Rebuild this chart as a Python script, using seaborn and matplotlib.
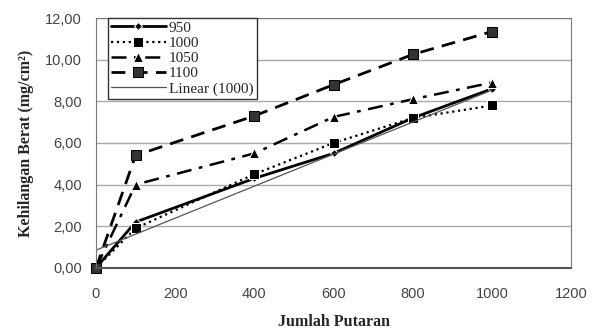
import matplotlib
matplotlib.use("Agg")
import matplotlib.pyplot as plt
import matplotlib.ticker as mticker
import seaborn as sns
import numpy as np

putaran = [0, 100, 400, 600, 800, 1000]
s950 = [0.0, 2.2, 4.3, 5.5, 7.2, 8.6]
s1000 = [0.0, 1.9, 4.5, 6.0, 7.2, 7.8]
s1050 = [0.0, 4.0, 5.5, 7.25, 8.1, 8.9]
s1100 = [0.0, 5.4, 7.3, 8.8, 10.25, 11.35]

sns.set_style("white")
plt.rcParams['font.family'] = ['Liberation Sans', 'DejaVu Sans']

fig, ax = plt.subplots(figsize=(6, 3.34), dpi=100)
fig.subplots_adjust(left=0.16, right=0.952, bottom=0.198, top=0.946)

sns.lineplot(x=putaran, y=s950, ax=ax, color="black", lw=2, marker="D",
             markersize=4, label="950", clip_on=False)
sns.lineplot(x=putaran, y=s1000, ax=ax, color="black", lw=1.6, linestyle=":",
             marker="s", markersize=7, label="1000", clip_on=False)
sns.lineplot(x=putaran, y=s1050, ax=ax, color="black", lw=1.8, linestyle=(0, (6, 3, 1.5, 3)),
             marker="^", markersize=7, label="1050", clip_on=False)
sns.lineplot(x=putaran, y=s1100, ax=ax, color="black", lw=2, linestyle=(0, (5, 3)),
             marker="s", markersize=7, markerfacecolor="#333333",
             markeredgecolor="black", label="1100", clip_on=False)

# trend line of the 1000 series
k, b = np.polyfit(putaran, s1000, 1)
xs = np.array([putaran[0], putaran[-1]])
sns.lineplot(x=xs, y=k * xs + b, ax=ax, color="#555555", lw=0.9, label="Linear (1000)")

ax.set_xlim(0, 1200)
ax.set_ylim(0, 12)
ax.set_xticks(range(0, 1201, 200))
ax.set_yticks(range(0, 13, 2))
ax.yaxis.set_major_formatter(mticker.FuncFormatter(lambda v, p: f"{v:.2f}".replace(".", ",")))
ax.tick_params(axis="both", labelsize=10.5, colors="#444444")
ax.tick_params(axis="x", length=4, width=1, color="#555555", direction="out", pad=10)
ax.tick_params(axis="y", length=0, pad=10)
ax.yaxis.grid(True, color="#aaaaaa", lw=1)
for sp in ax.spines.values():
    sp.set_color("#777777")
ax.spines["bottom"].set_color("#555555")
ax.spines["bottom"].set_linewidth(1.5)

ax.set_xlabel("Jumlah Putaran", family="Liberation Serif", fontweight="bold",
              fontsize=11.5, labelpad=9)
ax.set_ylabel("Kehilangan Berat (mg/cm²)", family="Liberation Serif",
              fontweight="bold", fontsize=11.5, labelpad=8)

leg = ax.legend(loc="upper left", bbox_to_anchor=(0.025, 1.0), frameon=True,
                fancybox=False, edgecolor="#333333", framealpha=1,
                prop={"family": "Liberation Serif", "size": 11},
                handlelength=3.6, handletextpad=0.2, labelspacing=0.1,
                borderpad=0.2, borderaxespad=0)
leg.get_frame().set_linewidth(1)

plt.savefig("out.png", dpi=100)
